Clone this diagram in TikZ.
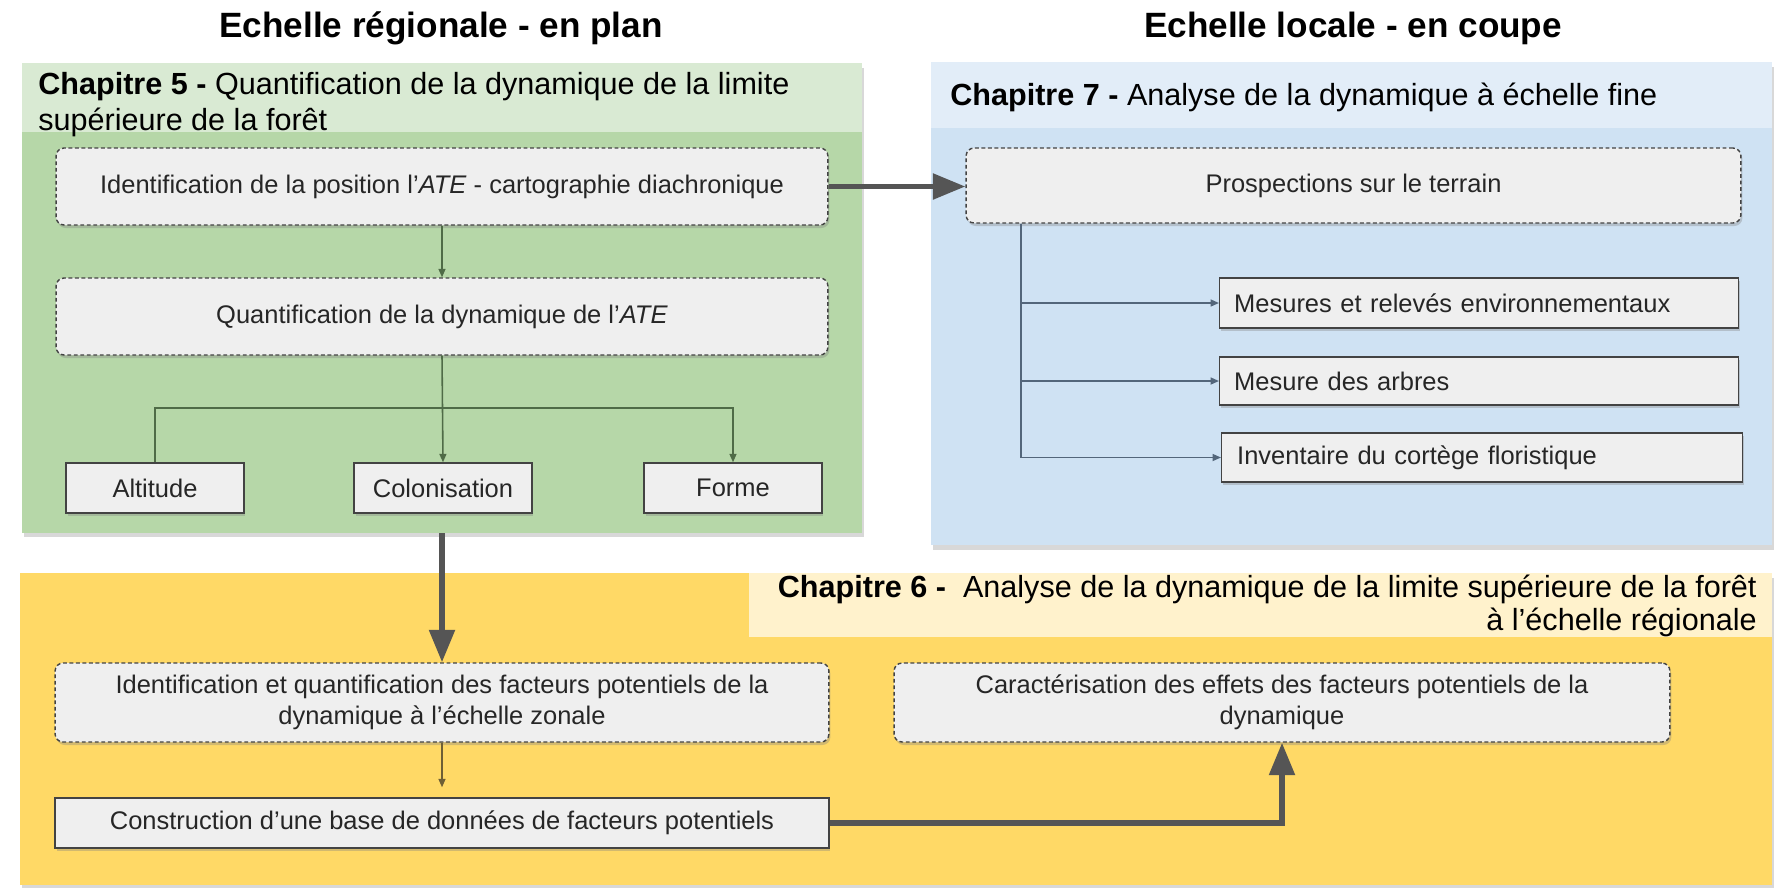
\documentclass[tikz,border=0pt]{standalone}
\usepackage{fontspec}
\setmainfont{Liberation Sans}
\usepackage{xcolor}
\usetikzlibrary{positioning, calc, shadows, arrows.meta}

\definecolor{greenpanel}{HTML}{B6D7A8}
\definecolor{greenhead}{HTML}{D9EAD3}
\definecolor{bluepanel}{HTML}{CFE2F3}
\definecolor{bluehead}{HTML}{E2EDF8}
\definecolor{yellowpanel}{HTML}{FFD966}
\definecolor{yellowhead}{HTML}{FFF2CC}
\definecolor{boxfill}{HTML}{EFEFEF}
\definecolor{boxline}{HTML}{434343}
\definecolor{darkarrow}{HTML}{555555}
\definecolor{greenarrow}{HTML}{4F6B47}
\definecolor{bluearrow}{HTML}{53667A}
\definecolor{yellowarrow}{HTML}{6E5F35}

\begin{document}
\begin{tikzpicture}[x=0.02cm, y=-0.02cm,
  panel/.style={inner sep=0pt, drop shadow={opacity=0.3, shadow xshift=0.4mm, shadow yshift=-0.9mm}},
  dashbox/.style={draw=boxline, fill=boxfill, dashed, dash pattern=on 2.2pt off 1.5pt, line width=0.8pt,
    rounded corners=1.6mm, align=center, text=black!85, font=\fontsize{14.5}{17.5}\selectfont,
    drop shadow={opacity=0.35, shadow xshift=0.3mm, shadow yshift=-0.6mm}},
  solidbox/.style={draw=boxline, fill=boxfill, line width=0.8pt, text=black!85,
    font=\fontsize{14.5}{17.5}\selectfont,
    drop shadow={opacity=0.35, shadow xshift=0.3mm, shadow yshift=-0.6mm}},
  heading/.style={inner sep=0pt, font=\fontsize{17.4}{20.5}\selectfont},
  scaletitle/.style={font=\bfseries\fontsize{20}{24}\selectfont},
  thickline/.style={darkarrow, line width=1.1mm, -{Triangle[length=6.5mm, width=5mm]}},
  thinline/.style={line width=0.9pt, -{Triangle[length=1.7mm, width=1.4mm]}}]

\useasboundingbox (0,0) rectangle (1774,887);
\fill[white] (0,0) rectangle (1774,887);

\node[scaletitle] (titleleft) at (441,28) {Echelle régionale - en plan};
\node[scaletitle] (titleright) at (1353,28) {Echelle locale - en coupe};

\node[panel, fill=greenpanel, minimum width=16.8cm, minimum height=9.4cm] (green) at (442,298) {};
\fill[greenhead] (22,63) rectangle (862,132);
\node[heading, anchor=west, align=left] (ch5) at (38,105)
  {\textbf{Chapitre 5 -} Quantification de la dynamique de la limite\\supérieure de la forêt};

\node[panel, fill=bluepanel, minimum width=16.82cm, minimum height=9.66cm] (blue) at (1351.5,304) {};
\fill[bluehead] (931,62) rectangle (1772,128);
\node[heading, anchor=west] (ch7) at (950,97) {\textbf{Chapitre 7 -} Analyse de la dynamique à échelle fine};

\node[panel, fill=yellowpanel, minimum width=35.04cm, minimum height=6.24cm] (yellow) at (896,729) {};
\fill[yellowhead] (749,573) rectangle (1772,637);
\node[heading, anchor=east, align=right, font=\fontsize{17.4}{18.7}\selectfont] (ch6) at (1757,606)
  {\textbf{Chapitre 6 -}\ \ Analyse de la dynamique de la limite supérieure de la forêt\\à l’échelle régionale};

\node[dashbox, minimum width=15.44cm, minimum height=1.54cm] (ident) at (442,186.5)
  {Identification de la position l’\textit{ATE} - cartographie diachronique};
\node[dashbox, minimum width=15.44cm, minimum height=1.54cm] (quant) at (442,316.5)
  {Quantification de la dynamique de l’\textit{ATE}};
\node[solidbox, minimum width=3.56cm, minimum height=1cm] (alt) at (155,488) {Altitude};
\node[solidbox, minimum width=3.56cm, minimum height=1cm] (colon) at (443,488) {Colonisation};
\node[solidbox, minimum width=3.56cm, minimum height=1cm] (forme) at (733,488) {Forme};
\coordinate (branch) at (442,408);

\draw[thinline, greenarrow] (ident.south) -- (quant.north);
\draw[thinline, greenarrow] (quant.south) -- (colon.north);
\draw[thinline, greenarrow] (alt.north) |- (branch) -| (forme.north);

\node[dashbox, minimum width=15.5cm, minimum height=1.5cm] (prosp) at (1353.5,185.5) {Prospections sur le terrain};
\node[solidbox, minimum width=10.38cm, minimum height=1cm, anchor=west, text width=9.8cm] (mesures) at (1219,303)
  {Mesures et relevés environnementaux};
\node[solidbox, minimum width=10.38cm, minimum height=0.96cm, anchor=west, text width=9.8cm] (arbres) at (1219,381)
  {Mesure des arbres};
\node[solidbox, minimum width=10.42cm, minimum height=0.98cm, anchor=west, text width=9.8cm] (invent) at (1221,457.5)
  {Inventaire du cortège floristique};
\coordinate (trunk) at (1021,0);

\draw[thinline, bluearrow] (prosp.south -| trunk) |- (mesures.west);
\draw[thinline, bluearrow] (prosp.south -| trunk) |- (arbres.west);
\draw[thinline, bluearrow] (prosp.south -| trunk) |- (invent.west);

\node[dashbox, minimum width=15.48cm, minimum height=1.58cm] (identf) at (442,702.5)
  {Identification et quantification des facteurs potentiels de la\\dynamique à l’échelle zonale};
\node[solidbox, minimum width=15.48cm, minimum height=1cm] (constr) at (442,823)
  {Construction d’une base de données de facteurs potentiels};
\node[dashbox, minimum width=15.52cm, minimum height=1.58cm] (caract) at (1282,702.5)
  {Caractérisation des effets des facteurs potentiels de la\\dynamique};

\draw[thinline, yellowarrow, shorten >=2mm] (identf.south) -- (constr.north);

\draw[thickline] (ident.east) -- (ident.east -| prosp.west);
\draw[thickline] (green.south) -- (identf.north);
\draw[thickline] (constr.east) -| (caract.south);
\end{tikzpicture}
\end{document}
